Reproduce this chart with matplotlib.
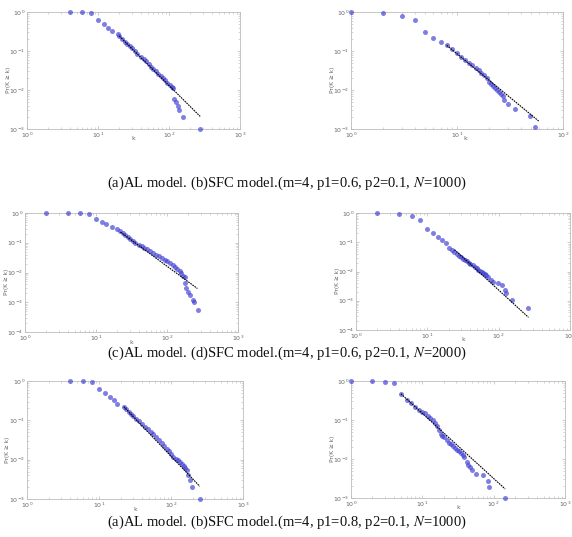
import matplotlib
matplotlib.use("Agg")
import matplotlib.pyplot as plt

# ---- data: CCDF Pr(K >= k) vs degree k ----
# (a) AL model, p1=0.6, N=1000
p1_k = [4, 6, 8, 10, 12, 14, 16, 19, 20, 22, 24, 26, 28, 30, 33, 36, 40, 44, 48, 52,
        56, 60, 65, 70, 76, 82, 88, 95, 102, 110, 115, 117, 126, 134, 138, 158, 275]
p1_p = [1.0, 1.0, 0.95, 0.62, 0.48, 0.39, 0.33, 0.27, 0.24, 0.203, 0.174, 0.151, 0.133,
        0.117, 0.099, 0.085, 0.071, 0.062, 0.054, 0.047, 0.040, 0.035, 0.030, 0.026,
        0.023, 0.020, 0.0177, 0.0155, 0.0136, 0.0120, 0.011, 0.006, 0.005, 0.0039,
        0.003, 0.002, 0.001]
p1_fit_k = [20, 275]
p1_fit_p = [0.24, 0.0021]

# (b) SFC model, p1=0.6, N=1000
p2_k = [1, 2, 3, 4, 5, 6, 7, 8, 9, 10, 11, 12, 13, 14, 15, 16, 17, 18, 19, 20, 21, 22,
        23, 24, 25, 26, 27, 28, 30, 35, 49, 55]
p2_p = [1.0, 0.93, 0.81, 0.62, 0.31, 0.22, 0.17, 0.14, 0.11, 0.088, 0.071, 0.060, 0.050,
        0.044, 0.037, 0.032, 0.028, 0.024, 0.020, 0.0165, 0.0145, 0.0125, 0.011, 0.0098,
        0.0088, 0.0081, 0.0072, 0.0055, 0.0043, 0.0032, 0.0021, 0.0011]
p2_fit_k = [8, 59]
p2_fit_p = [0.14, 0.0016]

# (c) AL model, p1=0.6, N=2000
p3_k = [2, 4, 6, 8, 10, 12, 14, 17, 20, 22, 24, 26, 28, 30, 33, 36, 40, 44, 48, 53, 58,
        64, 70, 77, 85, 93, 100, 110, 120, 130, 140, 150, 160, 170, 178, 182, 185, 200,
        211, 230, 242, 270]
p3_p = [1.0, 1.0, 1.0, 0.95, 0.61, 0.51, 0.44, 0.35, 0.28, 0.245, 0.210, 0.182, 0.158,
        0.138, 0.116, 0.100, 0.087, 0.077, 0.068, 0.060, 0.053, 0.046, 0.040, 0.035,
        0.030, 0.027, 0.024, 0.0205, 0.0175, 0.015, 0.013, 0.011, 0.0093, 0.0078,
        0.0068, 0.0045, 0.0031, 0.0022, 0.0018, 0.0012, 0.001, 0.00055]
p3_fit_k = [22, 268]
p3_fit_p = [0.23, 0.0029]

# (d) SFC model, p1=0.6, N=2000
p4_k = [2, 4, 6, 8, 10, 12, 14, 16, 18, 20, 22, 24, 26, 28, 30, 32, 34, 36, 38, 40, 43,
        46, 49, 52, 55, 58, 61, 64, 67, 70, 78, 83, 99, 110, 123, 127, 152, 257]
p4_p = [1.0, 0.9, 0.8, 0.59, 0.28, 0.21, 0.15, 0.12, 0.092, 0.062, 0.056, 0.048, 0.041,
        0.035, 0.031, 0.0275, 0.0245, 0.022, 0.020, 0.018, 0.0162, 0.0145, 0.0132,
        0.0117, 0.0107, 0.0098, 0.0089, 0.0083, 0.0078, 0.0063, 0.0051, 0.0045,
        0.0039, 0.0034, 0.0024, 0.0018, 0.0011, 0.00055]
p4_fit_k = [24, 262]
p4_fit_p = [0.056, 0.00027]

# (a) AL model, p1=0.8, N=1000
p5_k = [4, 6, 8, 10, 12, 14, 16, 18, 22, 24, 26, 28, 30, 33, 36, 40, 44, 48, 52, 57, 62,
        68, 74, 80, 87, 94, 101, 108, 116, 124, 133, 142, 150, 158, 165, 173, 183,
        193, 251]
p5_p = [1.0, 1.0, 0.96, 0.61, 0.49, 0.39, 0.32, 0.26, 0.224, 0.191, 0.166, 0.147, 0.130,
        0.110, 0.095, 0.080, 0.069, 0.060, 0.052, 0.044, 0.037, 0.031, 0.026, 0.0225,
        0.019, 0.0162, 0.0139, 0.0120, 0.0106, 0.0097, 0.0089, 0.0077, 0.0068, 0.0060,
        0.0054, 0.0041, 0.003, 0.002, 0.001]
p5_fit_k = [22, 251]
p5_fit_p = [0.224, 0.0021]

# (b) SFC model, p1=0.8, N=1000
p6_k = [1, 2, 3, 4, 5, 6, 7, 8, 9, 10, 11, 12, 13, 14, 15, 16, 17, 18, 19, 20, 22, 24,
        25, 27, 29, 31, 33, 35, 37, 39, 42, 44, 46, 50, 57, 71, 83, 87, 142]
p6_p = [1.0, 0.98, 0.95, 0.87, 0.47, 0.33, 0.27, 0.22, 0.185, 0.165, 0.148, 0.13, 0.112,
        0.098, 0.085, 0.072, 0.055, 0.045, 0.040, 0.036, 0.031, 0.026, 0.024, 0.021,
        0.019, 0.0175, 0.016, 0.014, 0.0125, 0.011, 0.0085, 0.0072, 0.0062, 0.0052,
        0.0042, 0.0038, 0.0028, 0.0019, 0.001]
p6_fit_k = [5, 145]
p6_fit_p = [0.47, 0.0017]

captions = [
    "(a)AL model. (b)SFC model.(m=4, p1=0.6, p2=0.1, $\\it{N}$=1000)",
    "(c)AL model. (d)SFC model.(m=4, p1=0.6, p2=0.1, $\\it{N}$=2000)",
    "(a)AL model. (b)SFC model.(m=4, p1=0.8, p2=0.1, $\\it{N}$=1000)",
]

W, H = 572, 537
fig = plt.figure(figsize=(W / 100, H / 100), dpi=100)
fig.patch.set_facecolor("white")

# axes boxes in pixels: left, top, right, bottom
boxes = [(27, 12, 240, 129), (351, 12, 563, 129),
         (25, 213, 238, 332), (356, 213, 570, 330),
         (27, 381, 243, 499), (351, 381, 565, 498)]
panels = [(p1_k, p1_p, p1_fit_k, p1_fit_p, 1000, 1e-3),
          (p2_k, p2_p, p2_fit_k, p2_fit_p, 100, 1e-3),
          (p3_k, p3_p, p3_fit_k, p3_fit_p, 1000, 1e-4),
          (p4_k, p4_p, p4_fit_k, p4_fit_p, 1000, 1e-4),
          (p5_k, p5_p, p5_fit_k, p5_fit_p, 1000, 1e-3),
          (p6_k, p6_p, p6_fit_k, p6_fit_p, 1000, 1e-3)]
# small nudge of the "k" label so it sits beside the middle tick label
klabel_x = [0.5, 0.54, 0.5, 0.5, 0.5, 0.5]

tick_col = "#666666"
for (l, t, r, b), (k, p, fk, fp, xmax, ymin), kx in zip(boxes, panels, klabel_x):
    ax = fig.add_axes([l / W, 1 - b / H, (r - l) / W, (b - t) / H])
    ax.set_xscale("log")
    ax.set_yscale("log")
    ax.set_xlim(1, xmax)
    ax.set_ylim(ymin, 1)
    ax.plot(k, p, "o", ms=3.6, color=(0.26, 0.26, 0.84), alpha=0.68,
            mec="none", clip_on=False, zorder=3)
    ax.plot(fk, fp, color="black", lw=0.8, ls=(0, (1.5, 0.8)), zorder=4)

    xt = [10 ** i for i in range(0, len(str(xmax)))]
    ax.set_xticks(xt)
    ax.set_xticklabels(["$10^{%d}$" % i for i in range(len(xt))])
    ndec = 3 if ymin == 1e-3 else 4
    yt = [10.0 ** (-i) for i in range(ndec, -1, -1)]
    ax.set_yticks(yt)
    ax.set_yticklabels(["$10^{%d}$" % (-i) for i in range(ndec, -1, -1)])
    ax.tick_params(which="both", direction="in", top=True, right=True,
                   colors="#b5b5b5", labelcolor=tick_col, labelsize=4.5, pad=1.2)
    ax.tick_params(which="major", length=2.5, width=0.5)
    ax.tick_params(which="minor", length=1.3, width=0.4)
    for s in ax.spines.values():
        s.set_color("#bdbdbd")
        s.set_linewidth(0.6)
    ax.text(kx, -0.085, "k", transform=ax.transAxes, ha="center", va="center",
            fontsize=4.5, color=tick_col)
    ax.text(-0.088, 0.42, "Pr(K \u2265 k)", transform=ax.transAxes, rotation=90,
            ha="center", va="center", fontsize=4.2, color=tick_col)

for cap, y in zip(captions, [183, 353, 522]):
    fig.text(287 / W, 1 - y / H, cap, ha="center", va="center",
             fontsize=10.5, family="Liberation Serif", color="#111111",
             math_fontfamily="stix")

fig.savefig("out.png", dpi=100, facecolor="white")
